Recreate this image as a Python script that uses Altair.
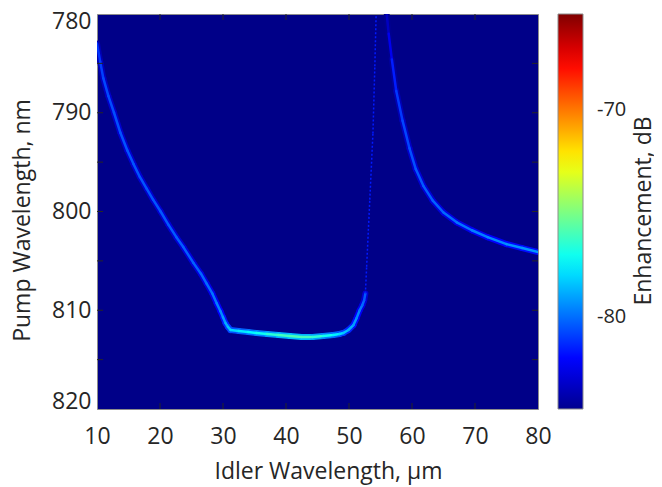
import altair as alt
import pandas as pd

# ---- data ----
# left branch + flat bottom (solid ridge)
left_x = [10.0, 10.5, 11.0, 11.8, 12.7, 13.7, 14.8, 15.8, 16.8, 17.9, 18.9, 20.1, 21.3, 22.6, 23.7,
          25.3, 26.5, 27.4, 28.3, 29.0, 29.6, 30.0, 30.4, 30.8, 31.2, 32.5, 34.0, 35.3, 37.0, 38.8,
          40.6, 42.5, 44.2, 45.9, 47.5, 48.5, 49.1, 49.9, 50.7, 51.2, 51.7, 52.1, 52.4, 52.6]
left_y = [783.0, 784.8, 786.5, 788.3, 790.0, 792.0, 793.8, 795.2, 796.5, 797.7, 798.8, 800.0, 801.3,
          802.6, 803.6, 805.2, 806.3, 807.3, 808.3, 809.3, 810.1, 810.7, 811.3, 811.7, 812.0, 812.1,
          812.2, 812.3, 812.4, 812.5, 812.6, 812.7, 812.7, 812.6, 812.5, 812.4, 812.3, 812.0, 811.5,
          810.8, 810.0, 809.5, 809.0, 808.3]
left_v = [-81.2, -81.0, -80.8, -80.7, -80.6, -80.6, -80.5, -80.5, -80.5, -80.5, -80.5, -80.5, -80.4,
          -80.4, -80.3, -80.3, -80.2, -80.1, -80.0, -79.8, -79.6, -79.3, -79.0, -78.6, -78.2, -77.8,
          -77.5, -77.3, -76.8, -76.3, -75.9, -75.9, -76.2, -76.7, -77.3, -77.8, -78.2, -78.6, -79.0,
          -79.4, -79.7, -80.0, -80.3, -80.6]

# faint dashed branch rising from the bottom plateau
faint_x = [52.6, 52.8, 53.3, 53.8, 54.1, 54.3]
faint_y = [808.3, 805.6, 798.8, 792.1, 785.3, 780.2]
faint_v = [-81.6, -81.6, -81.6, -81.6, -81.6, -81.6]

# right branch
right_x = [56.0, 56.3, 56.8, 57.5, 58.5, 59.6, 60.6, 61.8, 63.3, 65.0, 67.1, 69.5, 72.0, 75.0, 77.5, 80.0]
right_y = [780.1, 782.0, 784.6, 787.8, 790.8, 793.6, 795.7, 797.4, 798.9, 800.1, 801.1, 801.9, 802.6,
           803.3, 803.7, 804.1]
right_v = [-83.8, -83.0, -81.9, -81.2, -80.9, -80.7, -80.5, -80.4, -80.3, -80.2, -80.0, -79.8, -79.6,
           -79.4, -79.3, -79.2]

x_labels = [10, 20, 30, 40, 50, 60, 70, 80]
y_labels = [780, 790, 800, 810, 820]
x_minor = [20, 30, 40, 50, 60, 70]
y_minor = [785, 790, 795, 800, 805, 810, 815]
cbar_labels = [-80, -70]
cbar_title = ["Enhancement, dB"]

# jet colour map
jet_domain = [-84.47, -82.08, -77.30, -72.53, -67.75, -65.36]
jet_range = ["#00008F", "#0000FF", "#00FFFF", "#FFFF00", "#FF0000", "#800000"]


def segments(xs, ys, vs, shift=0.0):
    rows = []
    for i in range(len(xs) - 1):
        rows.append({"x": xs[i], "y": ys[i], "x2": xs[i + 1], "y2": ys[i + 1],
                     "v": (vs[i] + vs[i + 1]) / 2 + shift})
    return pd.DataFrame(rows)


core = pd.concat([segments(left_x, left_y, left_v), segments(right_x, right_y, right_v)])
halo = pd.concat([segments(left_x, left_y, left_v, -2.6), segments(right_x, right_y, right_v, -2.6)])
faint = segments(faint_x, faint_y, faint_v)

FONT = "Open Sans"
INK = "#262626"

x_scale = alt.Scale(domain=[10, 80], nice=False, zero=False)
y_scale = alt.Scale(domain=[780, 820], reverse=True, nice=False, zero=False)
c_scale = alt.Scale(domain=jet_domain, range=jet_range, interpolate="rgb", clamp=True)

x_axis = alt.Axis(values=x_labels, ticks=False, domain=False, grid=False, labelFontSize=23,
                  labelFont=FONT, labelColor=INK, labelPadding=16, labelFlush=False, labelAngle=0,
                  labelOverlap=False,
                  title="Idler Wavelength, μm", titleFont=FONT, titleFontSize=23,
                  titleFontWeight="normal", titleColor=INK, titleX=231, titleY=69,
                  titleBaseline="alphabetic", titleAlign="center")
y_axis = alt.Axis(values=y_labels, ticks=False, domain=False, grid=False, labelFontSize=23,
                  labelFont=FONT, labelColor=INK, labelPadding=6, labelFlush=True,
                  labelFlushOffset=4, labelOverlap=False,
                  title="Pump Wavelength, nm", titleFont=FONT, titleFontSize=23,
                  titleFontWeight="normal", titleColor=INK, titleAngle=270, titleX=-68, titleY=206,
                  titleBaseline="alphabetic", titleAlign="center")
legend = alt.Legend(orient="none", legendX=461, legendY=0, direction="vertical",
                    gradientLength=395, gradientThickness=25, values=cbar_labels,
                    labelExpr="'-' + format(abs(datum.value), 'd')",
                    labelFontSize=20, labelFont=FONT, labelColor=INK, labelOffset=14,
                    title=None, gradientStrokeColor="#8c8c8c", gradientStrokeWidth=1)

X = alt.X("x:Q", scale=x_scale, axis=x_axis)
Y = alt.Y("y:Q", scale=y_scale, axis=y_axis)
C = alt.Color("v:Q", scale=c_scale, legend=legend)

halo_layer = alt.Chart(halo).mark_rule(strokeWidth=6, strokeCap="round", clip=True).encode(
    x=X, y=Y, x2="x2:Q", y2="y2:Q", color=C)
core_layer = alt.Chart(core).mark_rule(strokeWidth=2.5, strokeCap="round", clip=True).encode(
    x=X, y=Y, x2="x2:Q", y2="y2:Q", color=C)
faint_layer = alt.Chart(faint).mark_rule(strokeWidth=1.5, strokeDash=[2, 2], clip=True).encode(
    x=X, y=Y, x2="x2:Q", y2="y2:Q", color=C)

xt = pd.DataFrame({"x": x_minor})
yt = pd.DataFrame({"y": y_minor})
tick_b = alt.Chart(xt).mark_rule(color=INK, strokeWidth=1).encode(x=X, y=alt.value(395), y2=alt.value(389))
tick_t = alt.Chart(xt).mark_rule(color=INK, strokeWidth=1).encode(x=X, y=alt.value(0), y2=alt.value(6))
tick_l = alt.Chart(yt).mark_rule(color=INK, strokeWidth=1).encode(y=Y, x=alt.value(0), x2=alt.value(6))
tick_r = alt.Chart(yt).mark_rule(color=INK, strokeWidth=1).encode(y=Y, x=alt.value(441), x2=alt.value(435))

title_layer = alt.Chart(pd.DataFrame({"t": cbar_title})).mark_text(
    font=FONT, fontSize=23, color=INK, angle=270, align="center", baseline="alphabetic"
).encode(text="t:N", x=alt.value(554), y=alt.value(197))

chart = alt.layer(halo_layer, core_layer, faint_layer, tick_b, tick_t, tick_l, tick_r, title_layer).properties(
    width=441, height=395,
    autosize=alt.AutoSizeParams(type="none"),
    padding={"left": 89, "top": 6, "right": 116, "bottom": 78},
).configure_view(fill="#000088", stroke="#8c8c8c", strokeWidth=1)

chart.save("out.html", embed_options={"renderer": "svg", "actions": False})
